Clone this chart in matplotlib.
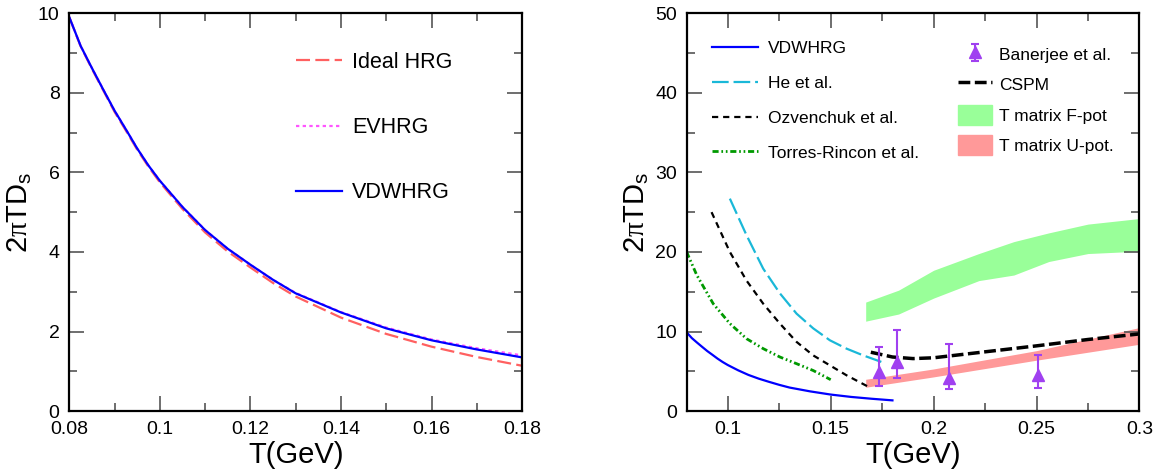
import numpy as np
import matplotlib
matplotlib.use('Agg')
import matplotlib.pyplot as plt
from matplotlib.patches import Patch
from matplotlib.ticker import MultipleLocator, FuncFormatter

plt.rcParams['font.family'] = ['Liberation Sans', 'DejaVu Sans']
plt.rcParams['mathtext.fontset'] = 'custom'
plt.rcParams['mathtext.rm'] = 'Liberation Sans'
plt.rcParams['mathtext.it'] = 'Liberation Serif'

# --- Panel izquierdo: modelos HRG ---
T_hrg = [0.08, 0.0825, 0.085, 0.0875, 0.09, 0.0925, 0.095, 0.0975, 0.10, 0.105, 0.11,
         0.115, 0.12, 0.125, 0.13, 0.14, 0.15, 0.16, 0.17, 0.18]
vdw = [9.9, 9.18, 8.62, 8.08, 7.55, 7.08, 6.6, 6.17, 5.79, 5.13, 4.55,
       4.08, 3.68, 3.3, 2.96, 2.48, 2.08, 1.78, 1.55, 1.35]
ideal = [9.9, 9.17, 8.6, 8.06, 7.52, 7.05, 6.57, 6.14, 5.75, 5.08, 4.49,
         4.01, 3.61, 3.22, 2.88, 2.35, 1.94, 1.62, 1.36, 1.14]
ev = [9.9, 9.18, 8.62, 8.08, 7.55, 7.08, 6.6, 6.17, 5.79, 5.13, 4.55,
      4.08, 3.68, 3.3, 2.97, 2.49, 2.1, 1.8, 1.58, 1.40]

# --- Panel derecho: comparación con otros trabajos ---
T_he = [0.101, 0.1091, 0.1172, 0.1253, 0.1334, 0.1415, 0.1496, 0.1577, 0.1658, 0.1755]
he = [26.7, 22.1, 17.9, 14.8, 12.25, 10.4, 8.9, 7.85, 7.0, 6.1]

T_ozv = [0.0921, 0.101, 0.1091, 0.1172, 0.1253, 0.1334, 0.1415, 0.1496, 0.1577, 0.168]
ozv = [25.0, 20.0, 16.4, 13.5, 11.0, 8.7, 7.0, 5.75, 4.5, 3.1]

T_tr = [0.08, 0.0849, 0.0929, 0.101, 0.1091, 0.1172, 0.1253, 0.1334, 0.1415, 0.15]
tr = [20.0, 17.1, 13.5, 11.0, 9.1, 7.85, 6.8, 5.96, 5.1, 3.95]

T_cspm = [0.1695, 0.18, 0.19, 0.20, 0.22, 0.25, 0.275, 0.30]
cspm = [7.4, 6.8, 6.6, 6.7, 7.3, 8.2, 9.0, 9.7]

T_fpot = [0.167, 0.183, 0.20, 0.222, 0.239, 0.256, 0.275, 0.30]
fpot_lo = [11.3, 12.2, 14.2, 16.4, 17.1, 18.8, 19.8, 20.1]
fpot_hi = [13.7, 15.2, 17.7, 19.8, 21.3, 22.4, 23.5, 24.2]

T_upot = [0.167, 0.20, 0.25, 0.30]
upot_lo = [3.0, 4.3, 6.4, 8.4]
upot_hi = [4.0, 5.3, 7.6, 10.5]

T_ban = [0.1735, 0.182, 0.2075, 0.2505]
ban = [4.9, 6.2, 4.1, 4.5]
ban_up = [3.1, 4.0, 4.3, 2.6]
ban_dn = [1.8, 2.1, 1.3, 1.6]

c_blue = '#0000ff'
c_cyan = '#1ab8d8'
c_green = '#009900'
c_purple = '#a040f0'
c_fpot = '#99ff99'
c_upot = '#ff9999'

fig = plt.figure(figsize=(11.55, 4.72), dpi=100)
ax1 = fig.add_axes([0.060, 0.129, 0.392, 0.843])
ax2 = fig.add_axes([0.5945, 0.129, 0.392, 0.843])

fmt = FuncFormatter(lambda v, p: f'{v:g}')

def estilo(ax):
    ax.tick_params(which='both', direction='in', top=True, right=True, labelsize=14,
                   width=1.2, color='#555555', labelcolor='black', pad=7)
    ax.tick_params(which='major', length=11)
    ax.tick_params(which='minor', length=5.5)
    for s in ax.spines.values():
        s.set_linewidth(1.6)
    ax.xaxis.set_major_formatter(fmt)
    ax.set_xlabel('T(GeV)', fontsize=21, labelpad=2)
    ax.set_ylabel(r'2$\pi$TD$_\mathregular{s}$', fontsize=21, labelpad=3)

# Izquierda
ax1.plot(T_hrg, ideal, color='#ff6060', lw=1.6, dashes=(6.3, 2.4), label='Ideal HRG')
ax1.plot(T_hrg, ev, color='#ff55ff', lw=1.6, dashes=(1.5, 1.5), label='EVHRG')
ax1.plot(T_hrg, vdw, color=c_blue, lw=1.6, label='VDWHRG')
ax1.set_xlim(0.08, 0.18)
ax1.set_ylim(0, 10)
ax1.xaxis.set_major_locator(MultipleLocator(0.02))
ax1.xaxis.set_minor_locator(MultipleLocator(0.01))
ax1.yaxis.set_major_locator(MultipleLocator(2))
ax1.yaxis.set_minor_locator(MultipleLocator(1))
estilo(ax1)
ax1.legend(loc='upper left', bbox_to_anchor=(0.501, 0.9025), frameon=False, fontsize=15.5,
           borderpad=0, borderaxespad=0, labelspacing=2.05, handlelength=2.14,
           handletextpad=0.47)

# Derecha
ax2.fill_between(T_fpot, fpot_lo, fpot_hi, color=c_fpot, lw=0)
ax2.fill_between(T_upot, upot_lo, upot_hi, color=c_upot, lw=0)
l1, = ax2.plot(T_hrg, vdw, color=c_blue, lw=1.6)
l2, = ax2.plot(T_he, he, color=c_cyan, lw=1.6, dashes=(7.5, 2.2))
l3, = ax2.plot(T_ozv, ozv, color='black', lw=1.6, dashes=(2.8, 2.2))
l4, = ax2.plot(T_tr, tr, color=c_green, lw=2, dashes=(2.2, 1, 0.6, 1, 0.6, 1))
l5, = ax2.plot(T_cspm, cspm, color='black', lw=2.5, dashes=(3.4, 1.3))
eb = ax2.errorbar(T_ban, ban, yerr=[ban_dn, ban_up], fmt='^', color=c_purple, ms=8.5,
                  elinewidth=1.5, capsize=3, capthick=1.5)
ax2.set_xlim(0.08, 0.3)
ax2.set_ylim(0, 50)
ax2.xaxis.set_major_locator(MultipleLocator(0.05))
ax2.xaxis.set_minor_locator(MultipleLocator(0.025))
ax2.yaxis.set_major_locator(MultipleLocator(10))
ax2.yaxis.set_minor_locator(MultipleLocator(5))
estilo(ax2)

leg1 = ax2.legend([l1, l2, l3, l4],
                  ['VDWHRG', 'He et al.', 'Ozvenchuk et al.', 'Torres-Rincon et al.'],
                  loc='upper left', bbox_to_anchor=(0.057, 0.930), frameon=False,
                  fontsize=12.5, borderpad=0, borderaxespad=0, labelspacing=1.13,
                  handlelength=2.64, handletextpad=0.57)
ax2.add_artist(leg1)
ax2.legend([eb, l5, Patch(color=c_fpot), Patch(color=c_upot)],
           ['Banerjee et al.', 'CSPM', 'T matrix F-pot', 'T matrix U-pot.'],
           loc='upper left', bbox_to_anchor=(0.600, 0.922), frameon=False, fontsize=12.5,
           borderpad=0, borderaxespad=0, labelspacing=0.55, handlelength=1.95,
           handleheight=1.45, handletextpad=0.4)

fig.savefig('out.png', dpi=100)
